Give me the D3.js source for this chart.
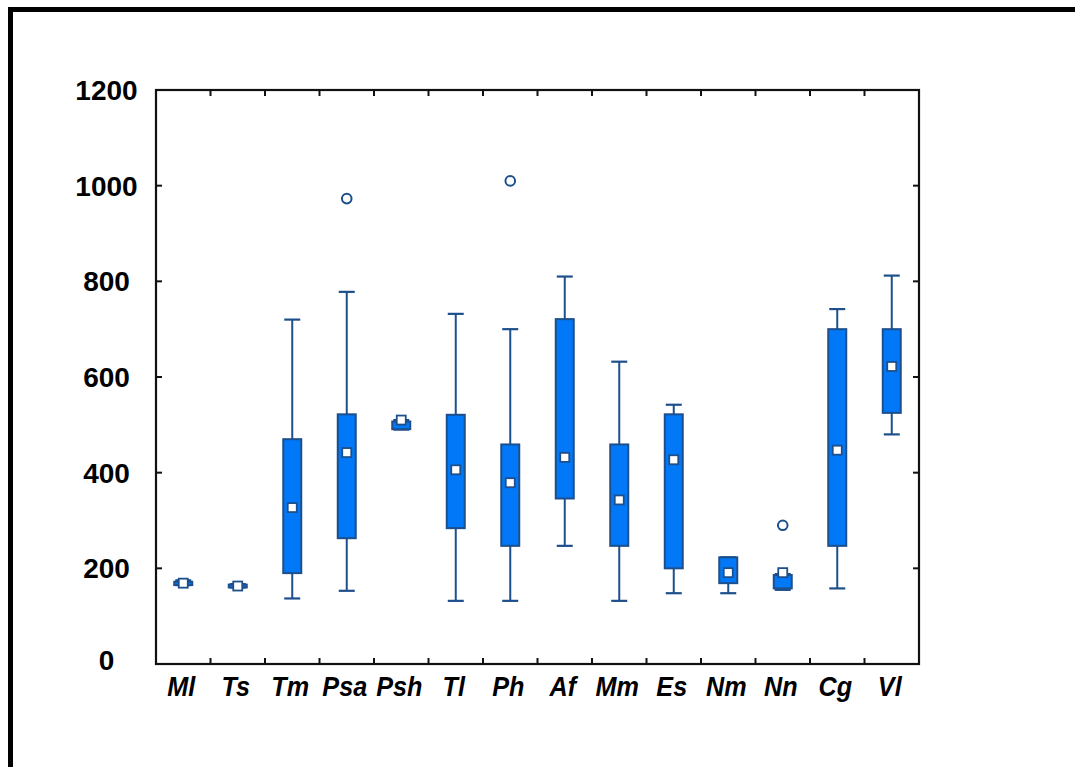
<!DOCTYPE html>
<html>
<head>
<meta charset="utf-8">
<script src="https://cdn.jsdelivr.net/npm/d3@7"></script>
<style>
  html, body { margin: 0; padding: 0; background: #fff; }
  svg { display: block; }
</style>
</head>
<body>
<svg id="chart" width="1075" height="767"></svg>
<script>
// ---- data ----
const categories  = ["Ml","Ts","Tm","Psa","Psh","Tl","Ph","Af","Mm","Es","Nm","Nn","Cg","Vl"];
const whiskerLow  = [165, 160, 137, 153, 490, 132, 132, 247, 132, 148, 148, 155, 158, 480];
const q1          = [165, 160, 190, 263, 491, 284, 247, 346, 247, 200, 169, 158, 247, 525];
const medians     = [169, 163, 327, 442, 510, 406, 379, 432, 343, 427, 191, 191, 447, 622];
const q3          = [172, 166, 470, 522, 507, 521, 459, 721, 459, 522, 223, 186, 700, 700];
const whiskerHigh = [175, 167, 720, 778, 510, 732, 700, 810, 632, 542, 223, 188, 742, 812];
const outlierCats = ["Psa", "Ph", "Nn"];
const outlierVals = [973, 1010, 290];
const yTicks      = [0, 200, 400, 600, 800, 1000, 1200];

(function () {
// ---- layout ----
const svg = d3.select("#chart");
const pL = 156, pR = 919, pT = 90, pB = 664;
const boxFill = "#0078f7", boxStroke = "#1d4f8c";

svg.append("rect").attr("width", 1075).attr("height", 767).attr("fill", "#fff");
// outer frame (right and bottom edges fall outside the picture)
svg.append("rect")
  .attr("x", 10.5).attr("y", 9.5).attr("width", 1200).attr("height", 900)
  .attr("fill", "none").attr("stroke", "#000").attr("stroke-width", 5);

const x = d3.scaleBand().domain(categories).range([pL, pR]).paddingInner(0).paddingOuter(0);
const y = d3.scaleLinear().domain([0, 1200]).range([pB, pT]);

const data = categories.map((c, i) => ({
  c, lo: whiskerLow[i], q1: q1[i], med: medians[i], q3: q3[i], hi: whiskerHigh[i]
}));
const cx = c => x(c) + x.bandwidth() / 2;

const g = svg.append("g");

// whisker stems
g.selectAll("line.stem").data(data).enter().append("line")
  .attr("x1", d => cx(d.c)).attr("x2", d => cx(d.c))
  .attr("y1", d => y(d.hi)).attr("y2", d => y(d.lo))
  .attr("stroke", boxStroke).attr("stroke-width", 2);
// caps
["hi", "lo"].forEach(k => {
  g.selectAll("line.cap" + k).data(data).enter().append("line")
    .attr("x1", d => cx(d.c) - 8).attr("x2", d => cx(d.c) + 8)
    .attr("y1", d => y(d[k])).attr("y2", d => y(d[k]))
    .attr("stroke", boxStroke).attr("stroke-width", 2.2);
});
// boxes
g.selectAll("rect.box").data(data).enter().append("rect")
  .attr("x", d => cx(d.c) - 9)
  .attr("y", d => y(Math.max(d.q1, d.q3)))
  .attr("width", 18)
  .attr("height", d => Math.max(2, Math.abs(y(d.q1) - y(d.q3))))
  .attr("fill", boxFill).attr("stroke", boxStroke).attr("stroke-width", 2);
// median markers
g.selectAll("rect.med").data(data).enter().append("rect")
  .attr("x", d => cx(d.c) - 4.5).attr("y", d => y(d.med) - 4.5)
  .attr("width", 9).attr("height", 9)
  .attr("fill", "#fff").attr("stroke", boxStroke).attr("stroke-width", 1.8);
// outliers
g.selectAll("circle.out").data(outlierCats.map((c, i) => ({c, v: outlierVals[i]}))).enter().append("circle")
  .attr("cx", d => cx(d.c)).attr("cy", d => y(d.v)).attr("r", 4.8)
  .attr("fill", "#fff").attr("stroke", boxStroke).attr("stroke-width", 2);

// ---- axes (ticks inward) ----
const axStroke = "#111";
const boundaries = categories.slice(1).map(c => x(c));
const ax = svg.append("g");
ax.selectAll("line.bt").data(boundaries).enter().append("line")
  .attr("x1", d => d).attr("x2", d => d).attr("y1", pB).attr("y2", pB - 6)
  .attr("stroke", axStroke).attr("stroke-width", 2);
ax.selectAll("line.tt").data(boundaries).enter().append("line")
  .attr("x1", d => d).attr("x2", d => d).attr("y1", pT).attr("y2", pT + 6)
  .attr("stroke", axStroke).attr("stroke-width", 2);
ax.selectAll("line.lt").data(yTicks).enter().append("line")
  .attr("x1", pL).attr("x2", pL + 6).attr("y1", d => y(d)).attr("y2", d => y(d))
  .attr("stroke", axStroke).attr("stroke-width", 2);
ax.selectAll("line.rt").data(yTicks).enter().append("line")
  .attr("x1", pR).attr("x2", pR - 6).attr("y1", d => y(d)).attr("y2", d => y(d))
  .attr("stroke", axStroke).attr("stroke-width", 2);
ax.append("rect").attr("x", pL).attr("y", pT).attr("width", pR - pL).attr("height", pB - pT)
  .attr("fill", "none").attr("stroke", axStroke).attr("stroke-width", 2.2);

// y labels (centered)
svg.selectAll("text.yl").data(yTicks).enter().append("text")
  .attr("x", 106.5).attr("y", d => y(d) + (d === 0 ? 6 : 10))
  .attr("text-anchor", "middle")
  .attr("font-family", "'Liberation Sans', Arial, sans-serif")
  .attr("font-weight", "bold").attr("font-size", 28).attr("fill", "#000")
  .text(d => d);

// x labels (slightly condensed like the reference)
svg.selectAll("text.xl").data(categories).enter().append("text")
  .attr("transform", d => `translate(${cx(d) - 2},696) scale(0.9,1)`)
  .attr("text-anchor", "middle")
  .attr("font-family", "'Liberation Sans', Arial, sans-serif")
  .attr("font-weight", "bold").attr("font-style", "italic").attr("font-size", 28).attr("fill", "#000")
  .text(d => d);
})();
</script>
</body>
</html>
